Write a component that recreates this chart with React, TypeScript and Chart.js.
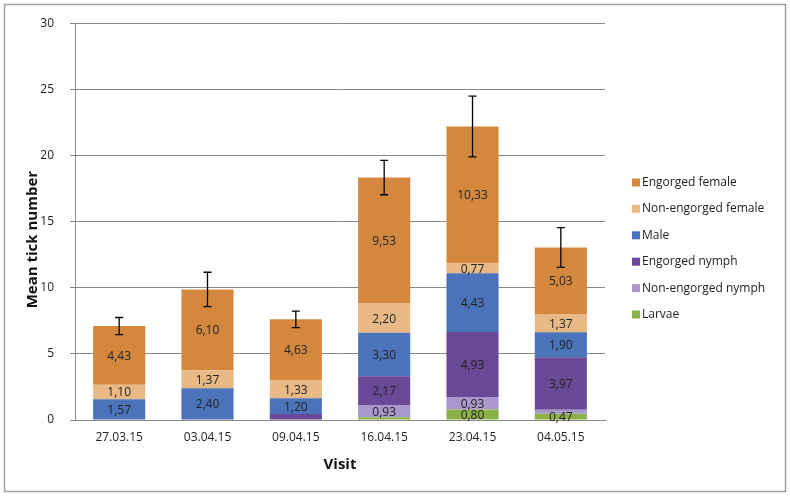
import React, { useEffect, useRef } from "react";
import { Chart, registerables } from "chart.js";

Chart.register(...registerables);

const categories = ["27.03.15", "03.04.15", "09.04.15", "16.04.15", "23.04.15", "04.05.15"];
const larvae = [0, 0, 0, 0.2, 0.8, 0.47];
const nonEngorgedNymph = [0, 0, 0, 0.93, 0.93, 0.3];
const engorgedNymph = [0, 0, 0.45, 2.17, 4.93, 3.97];
const male = [1.57, 2.4, 1.2, 3.3, 4.43, 1.9];
const nonEngorgedFemale = [1.1, 1.37, 1.33, 2.2, 0.77, 1.37];
const engorgedFemale = [4.43, 6.1, 4.63, 9.53, 10.33, 5.03];
const errors = [0.65, 1.3, 0.62, 1.3, 2.3, 1.5];
const yTicks = [0, 5, 10, 15, 20, 25, 30];

const seriesNames = ["Larvae", "Non-engorged nymph", "Engorged nymph", "Male", "Non-engorged female", "Engorged female"];
const seriesValues = [larvae, nonEngorgedNymph, engorgedNymph, male, nonEngorgedFemale, engorgedFemale];
const seriesColors = ["#8cb14a", "#a898cb", "#6a4997", "#4a73ba", "#e8b985", "#d4883e"];

const FONT = "'Open Sans', 'Noto Sans', sans-serif";

const drawPlugin = {
  id: "custom",
  beforeDraw(chart: any) {
    const ctx = chart.ctx;
    ctx.save();
    ctx.fillStyle = "#ffffff";
    ctx.fillRect(0, 0, chart.width, chart.height);
    ctx.strokeStyle = "#a0a0a0";
    ctx.lineWidth = 1.5;
    ctx.strokeRect(4.5, 4.5, chart.width - 9, chart.height - 9);
    ctx.restore();
  },
  afterDatasetsDraw(chart: any) {
    const ctx = chart.ctx;
    const yScale = chart.scales.y;
    ctx.save();
    ctx.font = `12px ${FONT}`;
    ctx.fillStyle = "#222222";
    ctx.textAlign = "center";
    ctx.textBaseline = "middle";
    chart.data.datasets.forEach((ds: any, di: number) => {
      const meta = chart.getDatasetMeta(di);
      meta.data.forEach((bar: any, i: number) => {
        const v = ds.data[i];
        if (v < 0.46) return;
        const cy = (bar.y + bar.base) / 2;
        ctx.fillText(v.toFixed(2).replace(".", ","), bar.x, cy + 1);
      });
    });
    // error bars
    const lastMeta = chart.getDatasetMeta(chart.data.datasets.length - 1);
    ctx.strokeStyle = "#000000";
    ctx.lineWidth = 1.3;
    categories.forEach((_, i) => {
      let total = 0;
      seriesValues.forEach((s) => (total += s[i]));
      const x = lastMeta.data[i].x;
      const yTop = yScale.getPixelForValue(total + errors[i]);
      const yBot = yScale.getPixelForValue(total - errors[i]);
      ctx.beginPath();
      ctx.moveTo(x, yTop);
      ctx.lineTo(x, yBot);
      ctx.moveTo(x - 4, yTop);
      ctx.lineTo(x + 4, yTop);
      ctx.moveTo(x - 4, yBot);
      ctx.lineTo(x + 4, yBot);
      ctx.stroke();
    });
    ctx.restore();
  },
  afterDraw(chart: any) {
    const ctx = chart.ctx;
    const area = chart.chartArea;
    ctx.save();
    // legend
    ctx.font = `12px ${FONT}`;
    ctx.textAlign = "left";
    ctx.textBaseline = "middle";
    const n = seriesNames.length;
    for (let k = 0; k < n; k++) {
      const idx = n - 1 - k;
      const y = 182.5 + k * 26.4;
      ctx.fillStyle = seriesColors[idx];
      ctx.fillRect(632, y - 4, 8, 8);
      ctx.fillStyle = "#222222";
      ctx.fillText(seriesNames[idx], 642, y);
    }
    // axis titles
    ctx.font = `bold 15px ${FONT}`;
    ctx.fillStyle = "#111111";
    ctx.textAlign = "center";
    ctx.fillText("Visit", (area.left + area.right) / 2, 465);
    ctx.translate(33, (area.top + area.bottom) / 2 + 18);
    ctx.rotate(-Math.PI / 2);
    ctx.fillText("Mean tick number", 0, 0);
    ctx.restore();
  },
};

export default function App() {
  const ref = useRef<HTMLCanvasElement>(null);
  useEffect(() => {
    if (!ref.current) return;
    const chart = new Chart(ref.current, {
      type: "bar",
      data: {
        labels: categories,
        datasets: seriesNames.map((name, i) => ({
          label: name,
          data: seriesValues[i],
          backgroundColor: seriesColors[i],
          borderWidth: 0,
          categoryPercentage: 1,
          barPercentage: 0.59,
        })),
      },
      options: {
        responsive: false,
        animation: false,
        layout: { padding: { left: 0, top: 18, right: 185, bottom: 0 } },
        plugins: { legend: { display: false }, tooltip: { enabled: false } },
        scales: {
          x: {
            stacked: true,
            grid: { display: false, drawTicks: false },
            border: { display: true, color: "#888888", width: 1 },
            ticks: { color: "#222222", font: { family: FONT, size: 12 }, padding: 10 },
            afterFit: (s: any) => {
              s.height = 76;
            },
          },
          y: {
            stacked: true,
            min: 0,
            max: 30,
            afterBuildTicks: (s: any) => {
              s.ticks = yTicks.map((v) => ({ value: v }));
            },
            grid: { color: "#888888", lineWidth: 1, tickLength: 5 },
            border: { display: true, color: "#888888", width: 1 },
            ticks: { color: "#222222", font: { family: FONT, size: 12 }, padding: 16 },
            afterFit: (s: any) => {
              s.width = 75;
            },
          },
        },
      },
      plugins: [drawPlugin],
    });
    return () => chart.destroy();
  }, []);
  return (
    <div style={{ position: "absolute", left: 0, top: 0, width: 790, height: 496 }}>
      <canvas ref={ref} width={790} height={496} style={{ width: 790, height: 496, display: "block" }} />
    </div>
  );
}
